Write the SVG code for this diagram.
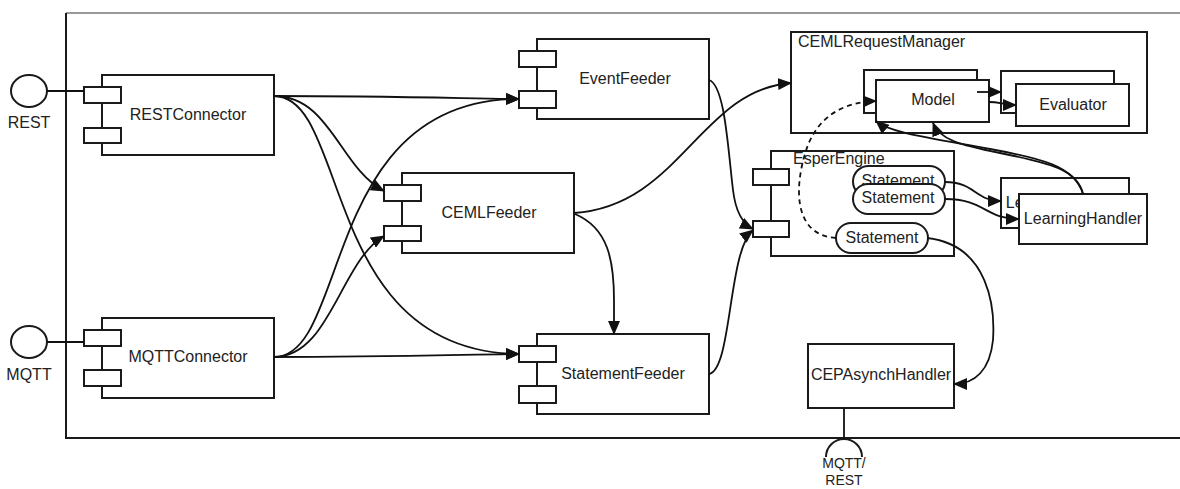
<svg xmlns="http://www.w3.org/2000/svg" width="1180" height="489" viewBox="0 0 1180 489">
<defs>
<style>
.box{fill:#fff;stroke:#1a1a1a;stroke-width:2}
.port{fill:#fff;stroke:#1a1a1a;stroke-width:2}
.pill{fill:#fff;stroke:#1a1a1a;stroke-width:2}
.lbl{font-family:"Liberation Sans",Arial,sans-serif;font-size:16px;fill:#222}
.sm{font-size:14px}
.c{text-anchor:middle;dominant-baseline:central}
.con{fill:none;stroke:#111;stroke-width:1.8}
.arr{marker-end:url(#ah)}
.dash{stroke-dasharray:5,4}
</style>
<marker id="ah" markerUnits="userSpaceOnUse" markerWidth="14" markerHeight="12" viewBox="0 0 14 12" refX="13" refY="6" orient="auto">
<path d="M0,0 L14,6 L0,12 z" fill="#111"/>
</marker>
</defs>

<g id="frame">
<path d="M66,13 H1180" fill="none" stroke="#777" stroke-width="1.5"/>
<path d="M66,13 V438 H1180" fill="none" stroke="#1a1a1a" stroke-width="2"/>
</g>

<g id="rest-iface">
<ellipse cx="29" cy="91" rx="18" ry="16" fill="#fff" stroke="#1a1a1a" stroke-width="2"/>
<text class="lbl" x="29" y="128" text-anchor="middle">REST</text>
</g>
<g id="mqtt-iface">
<ellipse cx="29" cy="342" rx="18" ry="16" fill="#fff" stroke="#1a1a1a" stroke-width="2"/>
<text class="lbl" x="29" y="380" text-anchor="middle">MQTT</text>
</g>

<g id="RESTConnector">
<rect class="box" x="102" y="75" width="172" height="80"/>
<rect class="port" x="84" y="87" width="37" height="16"/>
<rect class="port" x="84" y="128" width="37" height="15"/>
<text class="lbl c" x="188" y="114">RESTConnector</text>
</g>
<g id="MQTTConnector">
<rect class="box" x="102" y="318" width="172" height="80"/>
<rect class="port" x="84" y="330" width="37" height="16"/>
<rect class="port" x="84" y="370" width="37" height="16"/>
<text class="lbl c" x="188" y="356">MQTTConnector</text>
</g>
<g id="EventFeeder">
<rect class="box" x="537" y="39" width="172" height="80"/>
<rect class="port" x="519" y="51" width="37" height="16"/>
<rect class="port" x="519" y="91" width="37" height="17"/>
<text class="lbl c" x="625" y="78">EventFeeder</text>
</g>
<g id="CEMLFeeder">
<rect class="box" x="402" y="173" width="172" height="80"/>
<rect class="port" x="384" y="185" width="37" height="16"/>
<rect class="port" x="384" y="226" width="37" height="15"/>
<text class="lbl c" x="489" y="212">CEMLFeeder</text>
</g>
<g id="StatementFeeder">
<rect class="box" x="537" y="334" width="172" height="80"/>
<rect class="port" x="519" y="346" width="37" height="16"/>
<rect class="port" x="519" y="386" width="37" height="17"/>
<text class="lbl c" x="623" y="373">StatementFeeder</text>
</g>

<g id="CEMLRequestManager">
<rect class="box" x="791" y="32" width="356" height="101"/>
<text class="lbl" x="798" y="47">CEMLRequestManager</text>
</g>
<g id="Model">
<rect class="box" x="864" y="70" width="113" height="43"/>
<rect class="box" x="876" y="80" width="113" height="42"/>
<text class="lbl c" x="933" y="99">Model</text>
</g>
<g id="Evaluator">
<rect class="box" x="1001" y="71" width="113" height="42"/>
<rect class="box" x="1016" y="84" width="113" height="42"/>
<text class="lbl c" x="1073" y="104">Evaluator</text>
</g>

<g id="EsperEngine">
<rect class="box" x="771" y="151" width="183" height="105"/>
<rect class="port" x="753" y="169" width="36" height="16"/>
<rect class="port" x="753" y="221" width="36" height="16"/>
<text class="lbl" x="793" y="164">EsperEngine</text>
</g>
<g id="Statement1">
<rect class="pill" x="853" y="166" width="92" height="31" rx="15.5"/>
<text class="lbl c" x="898" y="180">Statement</text>
</g>
<g id="Statement2">
<rect class="pill" x="853" y="184" width="92" height="30" rx="15"/>
<text class="lbl c" x="898" y="197">Statement</text>
</g>
<g id="Statement3">
<rect class="pill" x="836" y="223" width="92" height="30" rx="15"/>
<text class="lbl c" x="882" y="237">Statement</text>
</g>

<g id="LearningHandler">
<rect class="box" x="1001" y="178" width="128" height="50"/>
<text class="lbl c" x="1065" y="202">LearningHandler</text>
<rect class="box" x="1019" y="194" width="128" height="50"/>
<text class="lbl c" x="1083" y="218">LearningHandler</text>
</g>

<g id="CEPAsynchHandler">
<rect class="box" x="808" y="344" width="146" height="64"/>
<text class="lbl c" x="881" y="374">CEPAsynchHandler</text>
</g>
<g id="mqtt-rest-iface">
<path d="M826,457 A18,18 0 0 1 862,457" fill="none" stroke="#1a1a1a" stroke-width="2"/>
<text class="lbl sm" x="844" y="468" text-anchor="middle">MQTT/</text>
<text class="lbl sm" x="844" y="485" text-anchor="middle">REST</text>
</g>

<g id="connectors">
<path class="con" d="M47,91 H84"/>
<path class="con" d="M47,342 H84"/>
<path class="con arr" d="M274,96 C380,96 450,98 519,99"/>
<path class="con arr" d="M274,96 C330,96 340,168 384,191"/>
<path class="con arr" d="M274,96 C350,96 320,352 519,354"/>
<path class="con arr" d="M274,357 C380,357 450,355 519,354"/>
<path class="con arr" d="M274,357 C330,357 340,262 384,236"/>
<path class="con arr" d="M274,357 C350,357 320,99 519,99"/>
<path class="con arr" d="M574,213 C680,206 700,90 791,83"/>
<path class="con arr" d="M575,214 C608,228 614,260 614,300 L614,334"/>
<path class="con arr" d="M709,80 C725,85 728,150 733,190 C736,215 745,225 753,229"/>
<path class="con arr" d="M709,374 C732,370 728,250 753,230"/>
<path class="con arr" d="M977,92 H1001"/>
<path class="con arr" d="M989,102 C1000,102 1004,105 1016,105"/>
<path class="con arr dash" d="M836,238 C790,235 795,180 808,145 C820,115 845,102 876,101"/>
<path class="con arr" d="M945,182 C975,182 975,201 1001,201"/>
<path class="con arr" d="M945,199 C985,199 985,219 1019,219"/>
<path class="con arr" d="M1083,194 C1078,170 1050,163 1000,153 C960,145 940,140 933,123"/>
<path class="con arr" d="M1083,194 C1075,166 1040,158 990,149 C930,138 890,133 876,121"/>
<path class="con arr" d="M927,238 C990,245 995,310 993,340 C990,370 975,384 954,384"/>
<path class="con" d="M844,408 V439"/>
</g>
</svg>
